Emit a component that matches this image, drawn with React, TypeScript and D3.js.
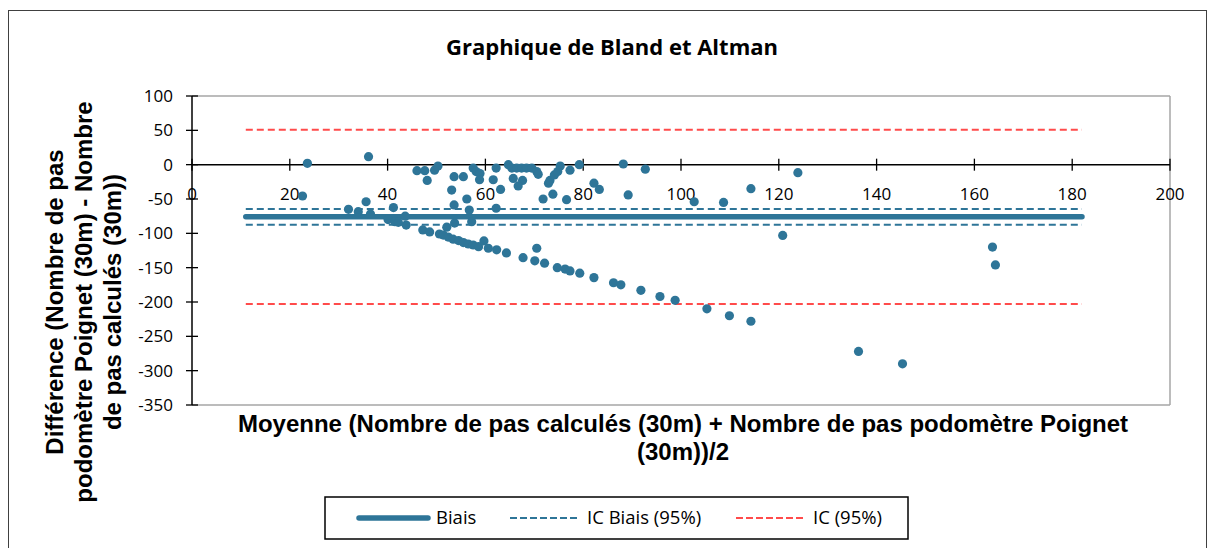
import React from 'react';
import * as d3 from 'd3';

// Bland & Altman: mean of the two step counts (x) vs difference (y)
const meanSteps = [
  22.6, 23.6, 36.1, 32.0, 34.0, 35.6, 36.5, 41.2, 40.1, 41.5, 42.2, 43.6, 43.8,
  46.0, 47.6, 48.1, 49.6, 50.3, 53.1, 53.6, 53.6, 55.5, 56.2, 56.7, 57.2, 53.7,
  52.1, 57.5, 58.1, 58.9, 58.8, 61.6, 62.2, 63.1, 62.2, 64.7, 65.4, 66.4, 67.4,
  68.4, 69.5, 70.5, 70.8, 65.7, 67.6, 66.7, 72.9, 73.2, 74.1, 74.8, 75.3, 77.3,
  79.2, 71.8, 73.8, 76.6, 82.2, 83.3, 88.2, 89.2, 92.7, 102.7, 108.7, 114.3,
  120.8, 123.9, 163.7, 164.3,
  47.2, 48.6, 50.6, 51.4, 52.4, 53.4, 54.5, 55.5, 56.5, 57.5, 58.6, 59.7, 60.6,
  62.3, 64.3, 67.7, 70.5, 70.1, 72.1, 74.7, 76.3, 77.3, 79.3, 82.2, 86.2, 87.7,
  91.8, 95.7, 98.8, 105.3, 109.9, 114.3, 136.3, 145.3,
];
const diffSteps = [
  -45.6, 2, 11.6, -65, -68.5, -54, -72, -62.5, -80, -83, -84, -75, -88,
  -8.7, -8.7, -23, -8, -2, -37, -17.5, -58.7, -17.5, -50, -66, -83, -85,
  -91, -5, -10, -13, -22, -22, -5, -36, -63.5, 0, -5, -5, -5,
  -5, -5, -10, -14, -20, -23, -31, -27, -23, -15, -10, -2, -8,
  0, -50, -43, -51, -27, -36, 1, -44, -6.5, -54, -55, -35,
  -103, -11.6, -120, -146,
  -95, -98, -101, -102.5, -105.5, -108.5, -110.5, -113.5, -115.5, -117, -119.5, -111, -121.7,
  -124, -128.5, -135.5, -121.7, -140, -143.5, -150, -152, -154.7, -158, -164.5, -172, -175,
  -183, -192, -197.5, -210, -220, -228, -272, -290,
];

const biais = -76;
const icBiais = [-64.5, -87.5];
const icLimits = [51, -203];
const lineSpan = [11, 182];

const xTickValues = [0, 20, 40, 60, 80, 100, 120, 140, 160, 180, 200];
const yTickValues = [100, 50, 0, -50, -100, -150, -200, -250, -300, -350];

const legendItems = [
  { label: 'Biais', kind: 'biais' },
  { label: 'IC Biais (95%)', kind: 'icb' },
  { label: 'IC (95%)', kind: 'ic' },
];

const BLUE = '#2e7598';
const RED = '#ff4b4b';

export default function App() {
  const x = d3.scaleLinear().domain([0, 200]).range([192, 1170]);
  const y = d3.scaleLinear().domain([-350, 100]).range([405, 96]);
  const points = meanSteps.map((m, i) => ({ m, d: diffSteps[i] }));

  const hLine = (v: number, color: string, width: number, dash?: string, key?: string) => (
    <line
      key={key}
      x1={x(lineSpan[0])}
      x2={x(lineSpan[1])}
      y1={y(v)}
      y2={y(v)}
      stroke={color}
      strokeWidth={width}
      strokeDasharray={dash}
      strokeLinecap={dash ? 'butt' : 'round'}
    />
  );

  const tickFont = '"Open Sans", sans-serif';
  const titleFont = '"Liberation Sans", Arial, sans-serif';
  const legendX = [359, 510, 736];

  return (
    <svg
      width={1215}
      height={548}
      style={{ position: 'absolute', left: 0, top: 0, background: '#fff' }}
    >
      <rect x={8.5} y={10.5} width={1198} height={560} fill="#fff" stroke="#404040" strokeWidth={1} />

      <text x={612} y={55} textAnchor="middle" fontFamily={tickFont} fontWeight="bold" fontSize={22} fill="#000">
        Graphique de Bland et Altman
      </text>

      {/* plot frame */}
      <line x1={x(0)} x2={x(200)} y1={y(100)} y2={y(100)} stroke="#a6a6a6" strokeWidth={1.5} />
      <line x1={x(200)} x2={x(200)} y1={y(100)} y2={y(-350)} stroke="#a6a6a6" strokeWidth={1.5} />
      <line x1={x(0)} x2={x(200)} y1={y(-350)} y2={y(-350)} stroke="#a6a6a6" strokeWidth={1.5} />

      {/* y axis */}
      <line x1={x(0)} x2={x(0)} y1={y(100)} y2={y(-350)} stroke="#000" strokeWidth={1.5} />
      {yTickValues.map((v) => (
        <g key={'yt' + v}>
          <line x1={x(0) - 6} x2={x(0) + 6} y1={y(v)} y2={y(v)} stroke="#000" strokeWidth={1.3} />
          <text x={x(0) - 19} y={y(v)} dy="0.35em" textAnchor="end" fontFamily={tickFont} fontSize={17} fill="#000">
            {v}
          </text>
        </g>
      ))}

      {/* x axis crossing at 0 */}
      <line x1={x(0)} x2={x(200)} y1={y(0)} y2={y(0)} stroke="#000" strokeWidth={1.5} />
      {xTickValues.map((v) => (
        <g key={'xt' + v}>
          <line x1={x(v)} x2={x(v)} y1={y(0) - 6} y2={y(0) + 6} stroke="#000" strokeWidth={1.3} />
          <text x={x(v)} y={y(0) + 35} textAnchor="middle" fontFamily={tickFont} fontSize={17} fill="#000">
            {v}
          </text>
        </g>
      ))}

      {/* reference lines */}
      {icLimits.map((v, i) => hLine(v, RED, 2, '7 4', 'ic' + i))}
      {icBiais.map((v, i) => hLine(v, BLUE, 2, '7 4', 'icb' + i))}
      {hLine(biais, BLUE, 5.5, undefined, 'biais')}

      {/* points */}
      {points.map((p, i) => (
        <circle key={i} cx={x(p.m)} cy={y(p.d)} r={4.6} fill={BLUE} />
      ))}

      {/* axis titles */}
      <g fontFamily={titleFont} fontWeight="bold" fontSize={24} fill="#000" textAnchor="middle">
        <text transform="translate(63,302) rotate(-90)">Différence (Nombre de pas</text>
        <text transform="translate(92,302) rotate(-90)">podomètre Poignet (30m) - Nombre</text>
        <text transform="translate(121,302) rotate(-90)">de pas calculés (30m))</text>
        <text x={683} y={432}>Moyenne (Nombre de pas calculés (30m) + Nombre de pas podomètre Poignet</text>
        <text x={683} y={460}>(30m))/2</text>
      </g>

      {/* legend */}
      <rect x={325} y={497} width={583} height={42} fill="#fff" stroke="#000" strokeWidth={1.5} />
      {legendItems.map((it, i) => {
        const lx = legendX[i];
        const color = it.kind === 'ic' ? RED : BLUE;
        return (
          <g key={it.label}>
            <line
              x1={lx}
              x2={lx + 69}
              y1={518}
              y2={518}
              stroke={color}
              strokeWidth={it.kind === 'biais' ? 5.5 : 2}
              strokeDasharray={it.kind === 'biais' ? undefined : '7 3'}
              strokeLinecap={it.kind === 'biais' ? 'round' : 'butt'}
            />
            <text x={lx + 77} y={518} dy="0.35em" fontFamily={tickFont} fontSize={18.5} fill="#000">
              {it.label}
            </text>
          </g>
        );
      })}
    </svg>
  );
}
